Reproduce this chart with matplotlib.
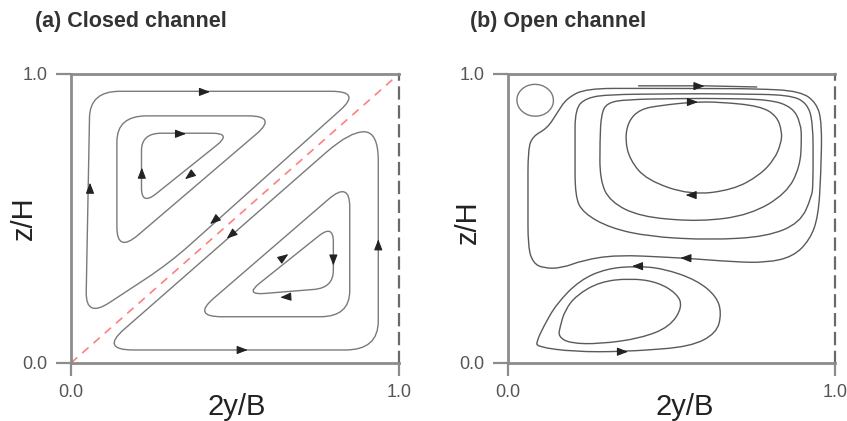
import numpy as np
import matplotlib.pyplot as plt
from matplotlib.path import Path
from matplotlib.patches import PathPatch, Ellipse

plt.rcParams['font.family'] = ['Liberation Sans', 'DejaVu Sans']

# --- (a) closed channel: streamline loops (corner points, data units) ---
a_upper_outer = [(0.058, 0.94), (0.885, 0.94), (0.30, 0.345), (0.045, 0.155)]
a_upper_mid = [(0.14, 0.855), (0.63, 0.855), (0.14, 0.38)]
a_upper_inner = [(0.215, 0.795), (0.49, 0.795), (0.215, 0.545)]
a_lower_outer = [(0.09, 0.045), (0.937, 0.045), (0.937, 0.80), (0.85, 0.80)]
a_lower_mid = [(0.37, 0.16), (0.85, 0.16), (0.85, 0.63)]
a_lower_inner = [(0.53, 0.235), (0.80, 0.26), (0.80, 0.48)]
a_loops = [a_upper_outer, a_upper_mid, a_upper_inner,
           a_lower_outer, a_lower_mid, a_lower_inner]
a_radius = [0.09, 0.09, 0.06, 0.1, 0.09, 0.06]

# arrows: x, y, dx, dy
a_arrows = [(0.41, 0.938, 1, 0), (0.058, 0.61, 0, 1), (0.434, 0.49, -1, -0.95),
            (0.337, 0.793, 1, 0), (0.216, 0.662, 0, 1), (0.358, 0.645, -1, -0.88),
            (0.525, 0.045, 1, 0), (0.937, 0.414, 0, 1), (0.485, 0.44, -1, -0.95),
            (0.652, 0.368, 1, 0.81), (0.80, 0.351, 0, -1), (0.652, 0.228, -1, -0.08)]

# --- (b) open channel ---
b_outer = [(0.24, 0.95), (0.50, 0.95), (0.76, 0.949), (0.893, 0.941), (0.944, 0.90),
           (0.96, 0.83), (0.957, 0.657), (0.949, 0.506), (0.923, 0.426), (0.872, 0.368),
           (0.79, 0.347), (0.688, 0.35), (0.541, 0.363), (0.333, 0.374), (0.23, 0.356),
           (0.164, 0.328), (0.108, 0.328), (0.077, 0.346), (0.061, 0.40), (0.061, 0.74),
           (0.076, 0.785), (0.12, 0.812), (0.15, 0.865), (0.18, 0.917)]
b_second = [(0.24, 0.918), (0.312, 0.929), (0.60, 0.932), (0.86, 0.928), (0.915, 0.90),
            (0.933, 0.83), (0.933, 0.62), (0.929, 0.575), (0.893, 0.484), (0.79, 0.437),
            (0.618, 0.426), (0.434, 0.437), (0.312, 0.467), (0.23, 0.519), (0.205, 0.575),
            (0.205, 0.75), (0.205, 0.88)]
b_third = [(0.302, 0.90), (0.363, 0.912), (0.60, 0.916), (0.80, 0.912), (0.87, 0.885),
           (0.895, 0.83), (0.898, 0.772), (0.893, 0.679), (0.852, 0.587), (0.74, 0.512),
           (0.587, 0.489), (0.404, 0.506), (0.312, 0.558), (0.281, 0.633), (0.281, 0.77),
           (0.285, 0.86)]
b_inner = [(0.465, 0.891), (0.567, 0.903), (0.648, 0.903), (0.771, 0.889), (0.822, 0.855),
           (0.838, 0.80), (0.835, 0.76), (0.815, 0.705), (0.77, 0.65), (0.688, 0.599),
           (0.557, 0.581), (0.424, 0.633), (0.373, 0.702), (0.358, 0.772), (0.368, 0.837),
           (0.404, 0.878)]
b_low_outer = [(0.088, 0.056), (0.2, 0.039), (0.353, 0.039), (0.557, 0.056), (0.638, 0.103),
               (0.653, 0.172), (0.638, 0.23), (0.577, 0.287), (0.475, 0.327), (0.393, 0.335),
               (0.302, 0.327), (0.22, 0.287), (0.149, 0.206), (0.108, 0.125), (0.088, 0.075)]
b_low_inner = [(0.159, 0.125), (0.154, 0.091), (0.19, 0.068), (0.281, 0.066), (0.404, 0.085),
               (0.495, 0.125), (0.534, 0.195), (0.516, 0.241), (0.455, 0.281), (0.373, 0.293),
               (0.281, 0.281), (0.21, 0.235), (0.174, 0.183)]
b_loops = [b_outer, b_second, b_third, b_inner, b_low_outer, b_low_inner]
b_streak = [(0.40, 0.959), (0.60, 0.959), (0.76, 0.955)]
corner_eddy = (0.083, 0.909, 0.112, 0.11, -20)  # cx, cy, w, h, angle

b_arrows = [(0.587, 0.958, 1, 0), (0.567, 0.903, 1, 0), (0.557, 0.581, -1, 0),
            (0.541, 0.363, -1, 0.02), (0.393, 0.335, -1, 0), (0.353, 0.039, 1, 0)]

tick_labels = ['0.0', '1.0']


def rounded_loop(verts, r):
    v = np.asarray(verts, float)
    n = len(v)
    pts, codes = [], []
    for i in range(n):
        p, c, q = v[i - 1], v[i], v[(i + 1) % n]
        a = c + (p - c) * min(r / np.hypot(*(p - c)), 0.5)
        b = c + (q - c) * min(r / np.hypot(*(q - c)), 0.5)
        pts.append(a)
        codes.append(Path.MOVETO if i == 0 else Path.LINETO)
        pts += [c, b]
        codes += [Path.CURVE3, Path.CURVE3]
    pts.append(pts[0])
    codes.append(Path.LINETO)
    return Path(pts, codes)


def arrow(ax, x, y, dx, dy):
    d = np.hypot(dx, dy)
    ux, uy = dx / d * 0.014, dy / d * 0.014
    ax.annotate('', xy=(x + ux, y + uy), xytext=(x - ux, y - uy),
                arrowprops=dict(arrowstyle='-|>,head_length=0.65,head_width=0.25',
                                color='#222222', lw=0.8, shrinkA=0, shrinkB=0,
                                mutation_scale=10))


def frame(ax, label_x, ylab_x, ylab_y):
    ax.set_xlim(0, 1)
    ax.set_ylim(0, 1)
    ax.set_xticks([0, 1])
    ax.set_yticks([0, 1])
    ax.set_xticklabels(tick_labels)
    ax.set_yticklabels(tick_labels)
    ax.tick_params(axis='x', length=9, width=1.6, color='#8c8c8c', pad=6,
                   labelcolor='#555555', labelsize=13)
    ax.tick_params(axis='y', length=11, width=1.6, color='#8c8c8c', pad=6,
                   labelcolor='#555555', labelsize=13)
    for s in ['left', 'bottom', 'top']:
        ax.spines[s].set_color('#8c8c8c')
        ax.spines[s].set_linewidth(2)
    ax.spines['right'].set_color('#6a6a6a')
    ax.spines['right'].set_linewidth(1.6)
    ax.spines['right'].set_linestyle((0, (5, 3.5)))
    ax.set_xlabel('2y/B', fontsize=21, color='#222222')
    ax.set_ylabel('z/H', fontsize=21, color='#222222')
    ax.xaxis.set_label_coords(label_x, -0.104)
    ax.yaxis.set_label_coords(ylab_x, ylab_y)


fig = plt.figure(figsize=(8.47, 4.21), dpi=100)

ax1 = fig.add_axes([0.0838, 0.1378, 0.3872, 0.6865])
ax1.plot([0, 1], [0, 1], color='#ff7f7f', lw=1.2, ls=(0, (5, 4)))
for loop, r in zip(a_loops, a_radius):
    ax1.add_patch(PathPatch(rounded_loop(loop, r), fill=False, ec='#7a7a7a', lw=1.0))
for x, y, dx, dy in a_arrows:
    arrow(ax1, x, y, dx, dy)
frame(ax1, 0.506, -0.10, 0.50)

ax2 = fig.add_axes([0.5998, 0.1378, 0.386, 0.6865])
for loop in b_loops:
    ax2.add_patch(PathPatch(rounded_loop(loop, 0.08), fill=False, ec='#5a5a5a', lw=1.0))
sx, sy = zip(*b_streak)
ax2.plot(sx, sy, color='#5a5a5a', lw=1.0)
cx, cy, w, h, ang = corner_eddy
ax2.add_patch(Ellipse((cx, cy), w, h, angle=ang, fill=False, ec='#7a7a7a', lw=1.0))
for x, y, dx, dy in b_arrows:
    arrow(ax2, x, y, dx, dy)
frame(ax2, 0.54, -0.08, 0.486)

fig.text(0.041, 0.948, '(a) Closed channel', ha='left', va='center',
         fontsize=15.5, fontweight='bold', color='#333333')
fig.text(0.555, 0.948, '(b) Open channel', ha='left', va='center',
         fontsize=15.5, fontweight='bold', color='#333333')

fig.savefig('out.png', dpi=100)
